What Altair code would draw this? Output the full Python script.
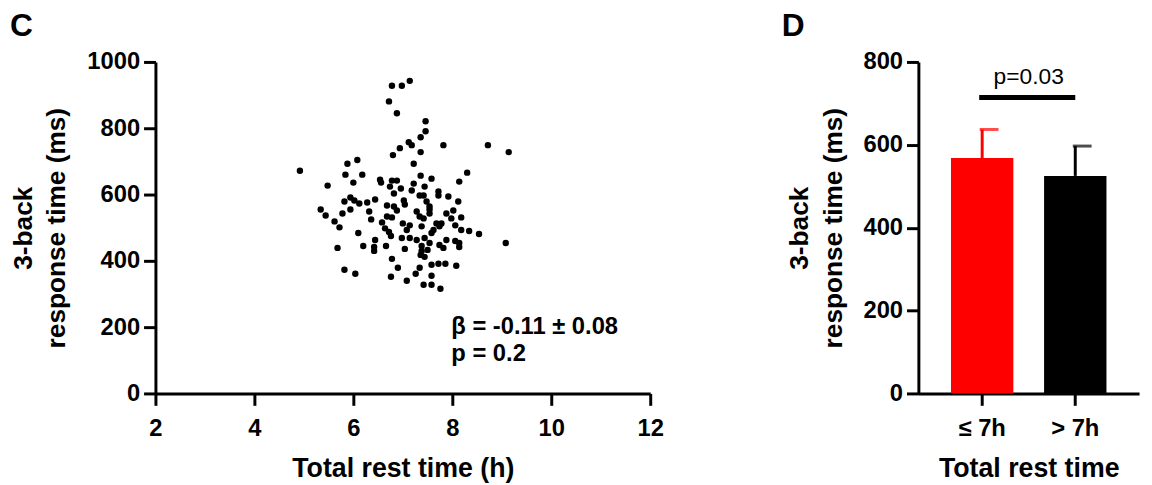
import altair as alt
import pandas as pd

FONT = "Liberation Sans"

# ---- Panel C: scatter (total rest time vs 3-back RT) ----
rest_h = [7.14, 6.98, 6.78, 6.72, 6.88, 7.46, 7.46, 7.36, 7.12, 7.18,
          6.94, 7.36, 7.82, 8.72, 9.14, 6.80, 7.22, 4.92, 5.88, 6.08,
          5.84, 6.18, 6.00, 5.48, 6.54, 6.56, 6.78, 6.74, 7.36, 7.58,
          8.30, 8.14, 6.88, 6.96, 7.22, 7.18, 7.44, 7.72, 7.72, 7.92,
          8.12, 7.34, 7.42, 7.02, 7.04, 7.48, 7.54, 6.82, 5.94, 6.02,
          5.82, 6.12, 6.28, 6.44, 5.34, 5.44, 6.68, 6.82, 5.94, 5.78,
          6.32, 6.36, 5.62, 5.72, 6.58, 6.68, 6.78, 6.88, 7.28, 7.34,
          7.42, 7.54, 7.54, 7.88, 8.02, 7.98, 8.18, 7.00, 7.14, 7.38,
          7.68, 7.78, 7.74, 8.06, 8.18, 8.34, 8.54, 6.64, 6.72, 6.76,
          6.10, 6.44, 6.42, 6.42, 6.20, 5.68, 6.66, 7.08, 7.58, 7.62,
          6.98, 7.14, 7.28, 7.44, 7.54, 7.88, 8.06, 8.14, 8.14, 7.74,
          7.82, 7.04, 7.38, 7.38, 7.50, 9.08, 7.36, 7.44, 6.78, 7.58,
          7.72, 7.86, 8.08, 6.90, 7.34, 7.26, 7.58, 7.08, 7.42, 7.58,
          7.76, 5.82, 6.04, 6.76]
rt_ms = [943, 928, 928, 881, 845, 821, 791, 773, 758, 749,
         740, 728, 749, 749, 728, 719, 693, 672, 693, 704,
         660, 660, 636, 627, 645, 636, 642, 624, 657, 648,
         666, 639, 642, 618, 633, 612, 624, 609, 597, 594,
         579, 597, 597, 582, 570, 579, 564, 603, 591, 582,
         579, 573, 576, 585, 555, 537, 567, 564, 555, 543,
         549, 525, 519, 501, 516, 534, 531, 552, 549, 534,
         528, 555, 543, 543, 552, 528, 531, 513, 507, 504,
         513, 513, 504, 507, 493, 490, 481, 498, 487, 475,
         484, 463, 442, 430, 445, 439, 445, 493, 484, 493,
         469, 469, 463, 469, 454, 463, 460, 454, 442, 448,
         439, 436, 445, 430, 433, 454, 418, 412, 406, 388,
         391, 391, 385, 379, 379, 361, 355, 340, 328, 328,
         316, 373, 361, 352]
stat_lines = ["\u03b2 = -0.11 \u00b1 0.08", "p = 0.2"]
stat_x = [7.98, 7.98]
stat_y = [200, 119]

# ---- Panel D: bars ----
groups = ["\u2264 7h", "> 7h"]
group_mean = [568, 525]
group_err = [69, 72]
group_colors = ["#FF0000", "#000000"]
sig_y = 714
sig_label = "p=0.03"
sig_label_y = 747

scatter_df = pd.DataFrame({"rest": rest_h, "rt": rt_ms})
stat_df = pd.DataFrame({"x": stat_x, "y": stat_y, "t": stat_lines})
bar_df = pd.DataFrame({
    "group": groups,
    "mean": group_mean,
    "upper": [m + e for m, e in zip(group_mean, group_err)],
})
sig_df = pd.DataFrame({"g1": [groups[0]], "g2": [groups[1]],
                       "y": [sig_y], "ly": [sig_label_y], "label": [sig_label]})

xs = alt.Scale(domain=[2, 12], nice=False)
ys = alt.Scale(domain=[0, 1000], nice=False)

pts = alt.Chart(scatter_df).mark_circle(size=42, color="black", opacity=1).encode(
    x=alt.X("rest:Q", scale=xs,
            axis=alt.Axis(values=[2, 4, 6, 8, 10, 12], labelFlush=False,
                          title="Total rest time (h)")),
    y=alt.Y("rt:Q", scale=ys,
            axis=alt.Axis(values=[0, 200, 400, 600, 800, 1000], format="d",
                          titlePadding=16,
                          title=["3-back", "response time (ms)"])),
)
stats = alt.Chart(stat_df).mark_text(
    align="left", baseline="middle", fontSize=24, fontWeight="bold", font=FONT, color="black"
).encode(x=alt.X("x:Q", scale=xs), y=alt.Y("y:Q", scale=ys), text="t:N")

left = alt.layer(pts, stats).properties(
    width=500, height=335,
    title=alt.Title("C", anchor="start", frame="group", fontSize=32, fontWeight="bold",
                    font=FONT, color="black", dx=-147, offset=7),
)

xband = alt.Scale(domain=groups, paddingInner=0.33, paddingOuter=0.35)
yb = alt.Scale(domain=[0, 800], nice=False)
col = alt.Color("group:N", scale=alt.Scale(domain=groups, range=group_colors), legend=None)

base = alt.Chart(bar_df)
bars = base.mark_bar().encode(
    x=alt.X("group:N", scale=xband, sort=groups,
            axis=alt.Axis(title="Total rest time", labelAngle=0)),
    y=alt.Y("mean:Q", scale=yb,
            axis=alt.Axis(values=[0, 200, 400, 600, 800], titlePadding=16,
                          title=["3-back", "response time (ms)"])),
    color=col,
)
err = base.mark_rule(strokeWidth=3).encode(
    x=alt.X("group:N", scale=xband, sort=groups, bandPosition=0.5),
    y="mean:Q", y2="upper:Q", color=col)
cap = base.mark_tick(thickness=3, size=19, xOffset=7).encode(
    x=alt.X("group:N", scale=xband, sort=groups, bandPosition=0.5),
    y="upper:Q", color=col)
sig = alt.Chart(sig_df).mark_rule(strokeWidth=5, color="black", xOffset=-3).encode(
    x=alt.X("g1:N", scale=xband, sort=groups), x2="g2:N", y=alt.Y("y:Q", scale=yb))
sig_txt = alt.Chart(sig_df).mark_text(
    fontSize=23, font=FONT, color="black", baseline="alphabetic", dx=47
).encode(x=alt.X("g1:N", scale=xband, sort=groups), y=alt.Y("ly:Q", scale=yb), text="label:N")

right = alt.layer(bars, err, cap, sig, sig_txt).properties(
    width=223, height=335,
    title=alt.Title("D", anchor="start", frame="group", fontSize=32, fontWeight="bold",
                    font=FONT, color="black", dx=-138, offset=7),
)

chart = alt.hconcat(left, right, spacing=119).properties(
    padding={"left": 2, "top": 0, "right": 5, "bottom": 0}
).configure_view(stroke=None).configure_axis(
    grid=False,
    domainColor="black", domainWidth=3,
    tickColor="black", tickWidth=3, tickSize=12,
    labelFont=FONT, labelFontSize=24, labelFontWeight="bold", labelColor="black",
    labelPadding=5,
    titleFont=FONT, titleFontSize=27, titleFontWeight="bold", titleColor="black",
    titlePadding=12, titleLineHeight=34,
).configure_axisY(titleFontSize=26.5, labelPadding=4).configure_axisX(
    labelPadding=12, titlePadding=15)

chart.save("out.html", embed_options={"renderer": "svg", "actions": False})
